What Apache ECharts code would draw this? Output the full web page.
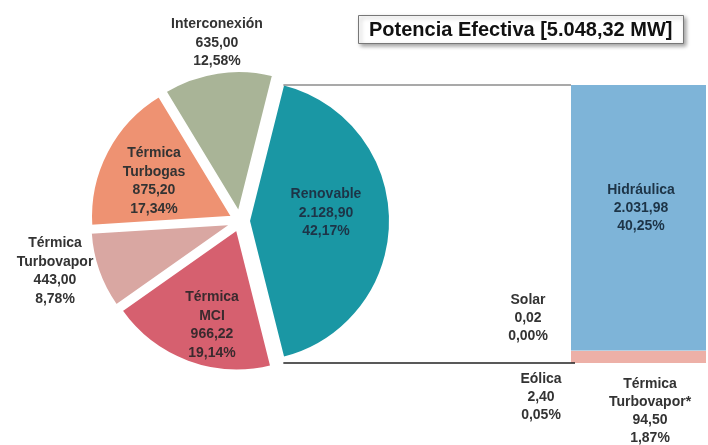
<!DOCTYPE html>
<html><head><meta charset="utf-8">
<script src="https://cdn.jsdelivr.net/npm/echarts@6/dist/echarts.min.js"></script>
<style>html,body{margin:0;padding:0;background:#fff}#c{width:708px;height:445px}</style>
</head><body><div id="c"></div>
<script>
// ---------- data ----------
const pieCategories = ['Renovable', 'Térmica MCI', 'Térmica Turbovapor', 'Térmica Turbogas', 'Interconexión'];
const pieLabelNames = ['Renovable', 'Térmica\nMCI', 'Térmica\nTurbovapor', 'Térmica\nTurbogas', 'Interconexión'];
const pieValues = [2128.90, 966.22, 443.00, 875.20, 635.00];
const barCategories = ['Térmica Turbovapor*', 'Eólica', 'Solar', 'Hidráulica'];
const barLabelNames = ['Térmica\nTurbovapor*', 'Eólica', 'Solar', 'Hidráulica'];
const barValues = [94.50, 2.40, 0.02, 2031.98];
const titleText = 'Potencia Efectiva [5.048,32 MW]';

// ---------- helpers ----------
const total = pieValues.reduce((a, b) => a + b, 0);
const barTotal = barValues.reduce((a, b) => a + b, 0);
function fmt(v) { const s = v.toFixed(2).split('.'); return s[0].replace(/\B(?=(\d{3})+(?!\d))/g, '.') + ',' + s[1]; }
function pct(v) { return fmt(v / total * 100) + '%'; }

// ---------- style ----------
const FONT = 'Liberation Sans, Arial, sans-serif';
const pieColors = ['#1A97A4', '#D6606F', '#D9A7A2', '#EE9272', '#A9B497'];
const barColors = ['#EDB0A7', '#9CCBE6', '#8FC3E3', '#7EB4D8'];
const pieCenter = [240, 221], pieR = 141, explode = 9;
const pieLabelPos = [[326, 213], [212, 325], [55, 271], [154, 181], [217, 43]];
const pieLabelColors = ['#1d3447', '#3a2a2e', '#333', '#333', '#333'];
const barLabelPos = [[650, 411], [541, 397], [528, 318], [641, 208]];
const barLabelColors = ['#333', '#333', '#333', '#1d3447'];
const barLabelSizes = [14, 14, 14, 14];
const startAngle = pieValues[0] / total * 180;
const barGrid = { left: 571, top: 85, right: 2, bottom: 82 };

const chart = echarts.init(document.getElementById('c'), null, { renderer: 'canvas' });

// sectors (all exploded)
const pieData = pieCategories.map((n, i) => ({
  name: n, value: pieValues[i], selected: true,
  itemStyle: { color: pieColors[i] }
}));
// label carrier (same geometry, invisible)
const pieLabelData = pieCategories.map((n, i) => ({
  name: n, value: pieValues[i],
  label: { color: pieLabelColors[i] }
}));

const barSeries = barCategories.map((n, i) => ({
  type: 'bar', name: n, stack: 'r', xAxisIndex: 0, yAxisIndex: 0,
  barWidth: '100%', data: [barValues[i]],
  itemStyle: { color: barColors[i] },
  label: {
    show: true, formatter: () => barLabelNames[i] + '\n' + fmt(barValues[i]) + '\n' + pct(barValues[i]),
    fontFamily: FONT, fontWeight: 'bold', fontSize: barLabelSizes[i], lineHeight: 18, color: barLabelColors[i]
  },
  labelLayout: () => ({ x: barLabelPos[i][0], y: barLabelPos[i][1], align: 'center', verticalAlign: 'middle' }),
  emphasis: { disabled: true }
}));

chart.setOption({
  animation: false,
  title: {
    text: titleText, left: 358, top: 15, padding: [5, 11, 4, 11],
    borderColor: '#777', borderWidth: 1, backgroundColor: '#fff',
    shadowBlur: 4, shadowColor: 'rgba(0,0,0,0.35)', shadowOffsetX: 2, shadowOffsetY: 2,
    textStyle: { fontSize: 20, fontWeight: 'bold', fontFamily: FONT, color: '#111' }
  },
  grid: [barGrid],
  xAxis: [{ type: 'category', data: ['Renovable'], show: false }],
  yAxis: [{ type: 'value', min: 0, max: barTotal, show: false }],
  series: [{
    type: 'pie', center: pieCenter, radius: pieR, startAngle: startAngle, clockwise: true,
    selectedMode: 'multiple', selectedOffset: explode,
    itemStyle: { borderColor: '#fff', borderWidth: 2 },
    label: { show: false }, labelLine: { show: false },
    emphasis: { disabled: true },
    data: pieData
  }, {
    type: 'pie', center: pieCenter, radius: pieR, startAngle: startAngle, clockwise: true,
    selectedMode: false, silent: true, avoidLabelOverlap: false, z: 5,
    itemStyle: { color: 'rgba(0,0,0,0)', borderWidth: 0 },
    label: {
      show: true, position: 'inside',
      formatter: p => pieLabelNames[p.dataIndex] + '\n' + fmt(p.value) + '\n' + pct(p.value),
      fontFamily: FONT, fontWeight: 'bold', fontSize: 14, lineHeight: 18.5
    },
    labelLine: { show: false },
    labelLayout: p => ({ x: pieLabelPos[p.dataIndex][0], y: pieLabelPos[p.dataIndex][1], align: 'center', verticalAlign: 'middle' }),
    emphasis: { disabled: true },
    data: pieLabelData
  }].concat(barSeries)
});

// connector lines between the exploded Renovable slice and the bar
const a = startAngle * Math.PI / 180;
const px = pieCenter[0] + explode + pieR * Math.cos(a);
const yTop = chart.convertToPixel({ gridIndex: 0 }, ['Renovable', barTotal])[1];
const yBot = chart.convertToPixel({ gridIndex: 0 }, ['Renovable', 0])[1];
const gx = barGrid.left;
chart.setOption({
  graphic: [
    { type: 'line', shape: { x1: px, y1: yTop, x2: gx, y2: yTop }, style: { stroke: '#555', lineWidth: 1.2 }, z: 10 },
    { type: 'line', shape: { x1: px, y1: yBot, x2: gx + 4, y2: yBot }, style: { stroke: '#222', lineWidth: 1.5 }, z: 10 }
  ]
});
</script></body></html>
